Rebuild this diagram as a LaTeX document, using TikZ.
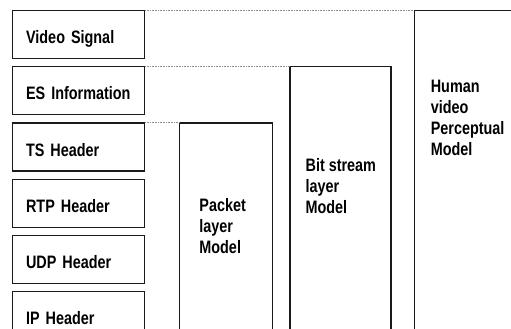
\documentclass[tikz,border=0pt]{standalone}
\usepackage{fontspec}
\usetikzlibrary{positioning}
\newfontfamily\boxfont[FakeStretch=0.8]{Liberation Sans Bold}
\definecolor{boxline}{HTML}{1A1A1A}
\definecolor{dotgray}{HTML}{8C8C8C}

\begin{document}
\begin{tikzpicture}[
    x=1pt, y=-1pt,
    node distance=7pt and 34pt,
    every node/.style={font=\boxfont\fontsize{18}{21}\selectfont},
    hdr/.style={draw=boxline, line width=1.2pt, minimum width=132pt, minimum height=48pt, text width=105pt, inner xsep=13.5pt, align=left, text height=18pt, text depth=0pt},
    model/.style={draw=boxline, line width=1.2pt, minimum height=330pt, anchor=north west},
    modeltext/.style={anchor=north west, inner sep=0pt, align=left},
    guide/.style={draw=dotgray, densely dotted, line width=0.6pt}
]
    \clip (0,0) rectangle (511,329);

    % header stack
    \node[hdr, anchor=north west] (video) at (12,10) {Video Signal};
    \node[hdr, below=of video] (es) {ES Information};
    \node[hdr, below=of es] (tshdr) {TS Header};
    \node[hdr, below=of tshdr] (rtphdr) {RTP Header};
    \node[hdr, below=of rtphdr] (udphdr) {UDP Header};
    \node[hdr, below=of udphdr] (iphdr) {IP Header};

    % models
    \node[model, minimum width=93pt] (packet) at ([xshift=34pt]tshdr.north east) {};
    \node[model, minimum width=101pt] (bitstream) at ([xshift=16pt]packet.north east |- es.north) {};
    \node[model, minimum width=97pt] (human) at ([xshift=22pt]bitstream.north east |- video.north) {};

    \node[modeltext] (packettxt) at ([xshift=20pt, yshift=-76pt]packet.north west) {Packet\\layer\\Model};
    \node[modeltext] (bitstreamtxt) at ([xshift=16pt, yshift=-92pt]bitstream.north west) {Bit stream\\layer\\Model};
    \node[modeltext] (humantxt) at ([xshift=17pt, yshift=-70pt]human.north west) {Human\\video\\Perceptual\\Model};

    % guides
    \draw[guide] (video.north east) -- (human.north west);
    \draw[guide] (es.north east) -- (bitstream.north west);
    \draw[guide] (tshdr.north east) -- (packet.north west);
\end{tikzpicture}
\end{document}
